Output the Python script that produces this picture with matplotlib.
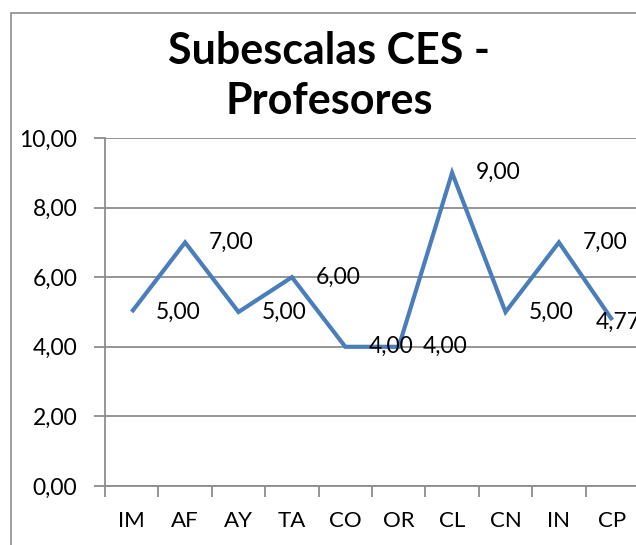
import matplotlib
matplotlib.use("Agg")
import matplotlib.pyplot as plt
from matplotlib.patches import Rectangle
from matplotlib.ticker import FixedLocator, FuncFormatter

categories = ["IM", "AF", "AY", "TA", "CO", "OR", "CL", "CN", "IN", "CP"]
values = [5.00, 7.00, 5.00, 6.00, 4.00, 4.00, 9.00, 5.00, 7.00, 4.77]
yticks = [0, 2, 4, 6, 8, 10]
title = "Subescalas CES -\nProfesores"

plt.rcParams['font.family'] = ['Lato', 'DejaVu Sans']

W, H = 636, 545
fig = plt.figure(figsize=(W / 100, H / 100), dpi=100)
fig.patch.set_facecolor("white")

# chart area border
fig.patches.append(Rectangle((10.5 / W, -0.05), 1.2, 1 - 13 / H + 0.05,
                             transform=fig.transFigure, fill=False,
                             edgecolor="#8c8c8c", linewidth=1.2))

ax = fig.add_axes([105 / W, 1 - 486 / H, 534 / W, 348 / H])
grid_c = "#8c8c8c"

x = list(range(len(categories)))
ax.plot(x, values, color="#4a7ebb", linewidth=3.0, solid_joinstyle="miter",
        solid_capstyle="butt", zorder=3, clip_on=False)

ax.set_xlim(-0.5, len(categories) - 0.5)
ax.set_ylim(0, 10)
ax.set_yticks(yticks)
ax.yaxis.set_major_formatter(FuncFormatter(lambda v, p: f"{v:.2f}".replace(".", ",")))
ax.yaxis.grid(True, color=grid_c, linewidth=1.3)
ax.set_axisbelow(True)

ax.set_xticks(x)
ax.set_xticklabels(categories)
ax.xaxis.set_minor_locator(FixedLocator([i - 0.5 for i in range(len(categories) + 1)]))
ax.tick_params(axis="x", which="major", length=0, pad=18, labelsize=16)
ax.tick_params(axis="x", which="minor", length=8, width=1.3, color=grid_c, direction="out")
ax.tick_params(axis="y", which="major", length=8, width=1.3, color=grid_c,
               direction="out", pad=12, labelsize=16.5)

for s in ["top", "right"]:
    ax.spines[s].set_visible(False)
for s in ["left", "bottom"]:
    ax.spines[s].set_color(grid_c)
    ax.spines[s].set_linewidth(1.3)

for i, v in enumerate(values):
    off = (17, 0) if i < len(values) - 1 else (-12, -2)
    ax.annotate(f"{v:.2f}".replace(".", ","), xy=(i, v), xytext=off,
                textcoords="offset points", ha="left", va="center",
                fontsize=16.5, annotation_clip=False)

fig.text(329 / W, 1 - 76 / H, title, ha="center", va="center",
         fontsize=31, fontweight="bold", linespacing=1.33)

fig.savefig("out.png", dpi=100)
